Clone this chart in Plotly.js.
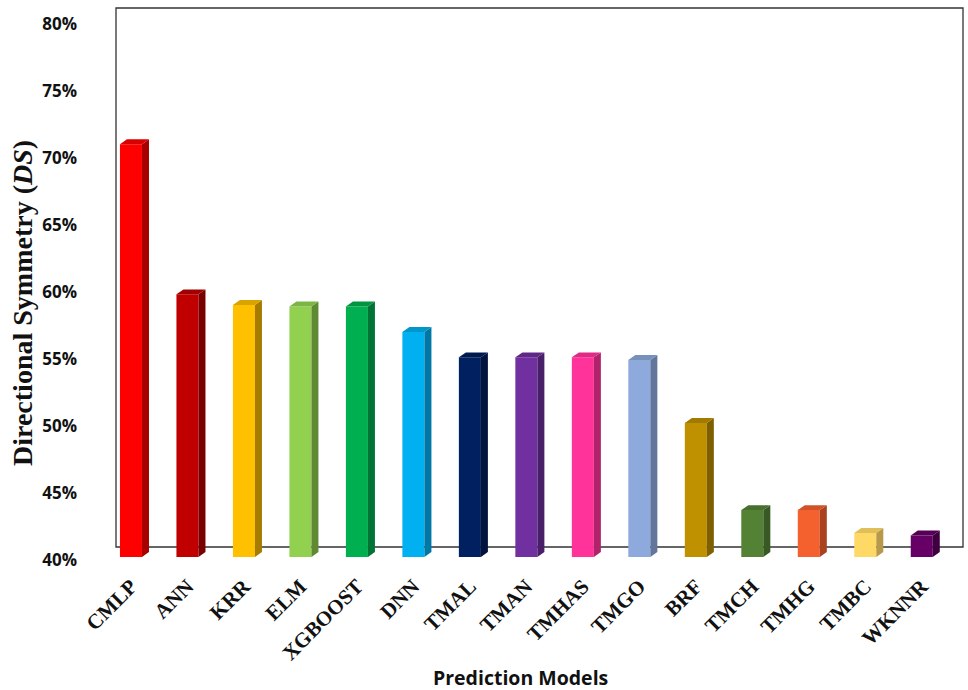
<!DOCTYPE html>
<html>
<head>
<meta charset="utf-8">
<script src="https://cdn.plot.ly/plotly-3.0.1.min.js"></script>
<style>html,body{margin:0;padding:0;background:#fff;}#chart{width:968px;height:690px;}</style>
</head>
<body>
<div id="chart"></div>
<script>
// ---- data ----
const models = ["CMLP","ANN","KRR","ELM","XGBOOST","DNN","TMAL","TMAN","TMHAS","TMGO","BRF","TMCH","TMHG","TMBC","WKNNR"];
const dsValues = [70.8, 59.6, 58.8, 58.7, 58.7, 56.8, 54.9, 54.9, 54.9, 54.7, 50.0, 43.5, 43.5, 41.8, 41.6];
const frontColors = ["#FF0000","#C00000","#FFC000","#92D050","#00B050","#00B0F0","#002060","#7030A0","#FF3399","#8EA9DB","#BF9000","#548235","#F4612F","#FFD966","#660066"];
const sideColors  = ["#A80000","#7A0000","#A67C00","#5F8A33","#007335","#0078A6","#00143E","#4A1F6A","#B0236A","#62769B","#7F6000","#385824","#A8421F","#B8994A","#3E003E"];
const topColors   = ["#D80000","#A00000","#D9A300","#7CB545","#00963F","#0096CC","#001A50","#5F2888","#E02B85","#7890BC","#A37A00","#476F2D","#D05228","#E0BE58","#550055"];
const yTicks = [40,45,50,55,60,65,70,75,80];

// ---- geometry (style) ----
const barW = 0.39;   // front face width in category units
const dx = 0.124;    // depth offset (x units)
const dy = 0.37;     // depth offset (y units)
const yMin = 40, yMax = 80;

const xs = models.map((_, i) => i);
const traces = [];
traces.push({
  type: 'bar', x: xs, y: dsValues, width: barW,
  marker: {color: frontColors, line: {width: 0}},
  hoverinfo: 'x+y', showlegend: false
});
xs.forEach((x, i) => {
  const v = dsValues[i];
  const r = x + barW / 2, l = x - barW / 2;
  traces.push({
    type: 'scatter', mode: 'lines', showlegend: false, hoverinfo: 'skip',
    x: [r, r + dx, r + dx, r, r], y: [yMin, yMin + dy, v + dy, v, yMin],
    fill: 'toself', fillcolor: sideColors[i], line: {width: 0, color: sideColors[i]}
  });
  traces.push({
    type: 'scatter', mode: 'lines', showlegend: false, hoverinfo: 'skip',
    x: [l, r, r + dx, l + dx, l], y: [v, v, v + dy, v + dy, v],
    fill: 'toself', fillcolor: topColors[i], line: {width: 0, color: topColors[i]}
  });
});
// invisible trace carrying the tick-label axis (labels sit ~3px below the front plane, as in the 3D original)
traces.push({type: 'scatter', mode: 'markers', x: [0], y: [yMin + 1], yaxis: 'y2',
  marker: {opacity: 0, size: 1}, hoverinfo: 'skip', showlegend: false});

const plotTop = 21, frontBottom = 557, labelShiftPx = 3;
const paperBottom = frontBottom + labelShiftPx;
const paperH = paperBottom - plotTop;
const py = (pix) => (paperBottom - pix) / paperH;   // pixel row -> paper fraction
const px = (pix) => (pix - 116) / 847;

const labelFont = {family: '"Open Sans", sans-serif', size: 17, color: '#111', weight: 'bold'};

const layout = {
  width: 968, height: 690,
  margin: {l: 116, r: 5, t: plotTop, b: 690 - paperBottom, pad: 0},
  paper_bgcolor: '#ffffff', plot_bgcolor: 'rgba(0,0,0,0)',
  showlegend: false,
  xaxis: {
    range: [-0.265, 14.73], anchor: 'y',
    tickmode: 'array', tickvals: xs, ticktext: models,
    tickangle: -45, ticks: '', ticklabelstandoff: 12,
    showgrid: false, zeroline: false, showline: false,
    tickfont: {family: '"Liberation Serif", "Times New Roman", serif', size: 21, color: '#111', weight: 'bold'}
  },
  yaxis: {
    domain: [py(frontBottom), 1],
    range: [yMin, yMax], showticklabels: false, ticks: '',
    showgrid: false, zeroline: false, showline: false
  },
  yaxis2: {
    domain: [0, py(plotTop + labelShiftPx)], anchor: 'x', side: 'left',
    range: [yMin, yMax],
    tickmode: 'array', tickvals: yTicks, ticktext: yTicks.map(t => t + '%'),
    ticks: '', ticklabelstandoff: 38,
    showgrid: false, zeroline: false, showline: false,
    tickfont: labelFont
  },
  shapes: [{
    type: 'rect', xref: 'paper', yref: 'paper', layer: 'below',
    x0: 0, x1: 1, y0: py(547), y1: py(8),
    line: {color: '#333333', width: 1.3}, fillcolor: 'rgba(0,0,0,0)'
  }],
  annotations: [
    {
      text: '<b>Directional Symmetry (<i>DS</i>)</b>',
      xref: 'paper', yref: 'paper', showarrow: false,
      x: px(22), y: py(303),
      xanchor: 'center', yanchor: 'middle', textangle: -90,
      font: {family: '"Liberation Serif", "Times New Roman", serif', size: 28, color: '#111'}
    },
    {
      text: '<b>Prediction Models</b>',
      xref: 'paper', yref: 'paper', showarrow: false,
      x: px(520), y: py(677),
      xanchor: 'center', yanchor: 'middle',
      font: {family: '"Open Sans", sans-serif', size: 19.5, color: '#111'}
    }
  ]
};

Plotly.newPlot('chart', traces, layout, {displayModeBar: false, staticPlot: true});
</script>
</body>
</html>
